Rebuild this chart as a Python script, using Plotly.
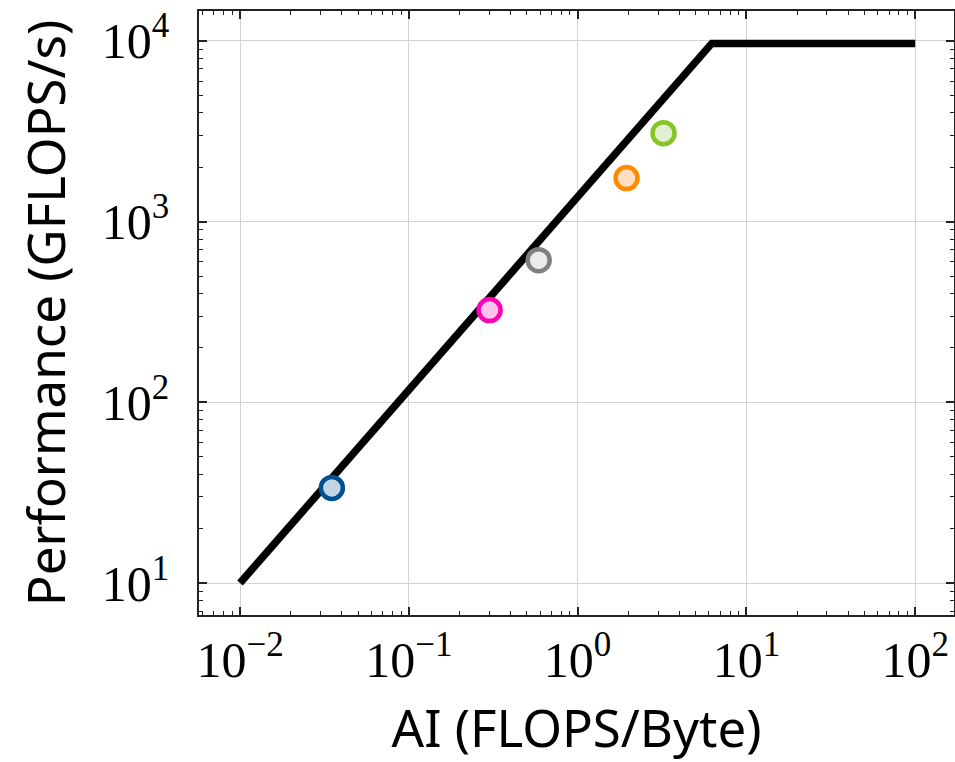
import plotly.graph_objects as go

# Roofline (A100-like)
roof_ai = [0.01, 6.24, 100]
roof_perf = [10, 9700, 9700]

# Measured kernels
point_ai = [0.035, 0.301, 0.588, 1.95, 3.23]
point_perf = [33.6, 324, 612, 1742, 3090]
point_edge = ["#00508f", "#ff00b4", "#7f7f7f", "#ff8c00", "#86c427"]
point_fill = ["#c4d5e6", "#ffc2ec", "#ebebeb", "#ffdfbf", "#e1f0d4"]

x_tickvals = [0.01, 0.1, 1, 10, 100]
x_ticktext = ["10<sup>−2</sup>", "10<sup>−1</sup>", "10<sup>0</sup>", "10<sup>1</sup>", "10<sup>2</sup>"]
y_tickvals = [10, 100, 1000, 10000]
y_ticktext = ["10<sup>1</sup>", "10<sup>2</sup>", "10<sup>3</sup>", "10<sup>4</sup>"]

fig = go.Figure()
fig.add_trace(go.Scatter(x=roof_ai, y=roof_perf, mode="lines",
                         line=dict(color="black", width=7.5), showlegend=False,
                         hoverinfo="skip"))
for xi, yi, ec, fc in zip(point_ai, point_perf, point_edge, point_fill):
    fig.add_trace(go.Scatter(x=[xi], y=[yi], mode="markers",
                             marker=dict(size=22, color=fc, line=dict(color=ec, width=4.5)),
                             showlegend=False))

tickfont = dict(family="Liberation Serif", size=50, color="black")
titlefont = dict(family="Noto Sans", size=51, color="black")

common = dict(
    type="log", showline=True, linecolor="#222", linewidth=1.5, mirror="allticks",
    ticks="inside", ticklen=8, tickwidth=1.5, tickcolor="#222",
    showgrid=True, gridcolor="#d3d3d3", gridwidth=1.2, zeroline=False,
    tickfont=tickfont, automargin=False,
    minor=dict(ticks="inside", ticklen=4, tickwidth=1.2, tickcolor="#222", dtick="D1", showgrid=False),
)

fig.update_xaxes(range=[-2.243, 2.23], tickvals=x_tickvals, ticktext=x_ticktext,
                 title=dict(text="AI (FLOPS/Byte)", font=titlefont, standoff=28), **common)
fig.update_yaxes(range=[0.823, 4.166], tickvals=y_tickvals, ticktext=y_ticktext,
                 ticklabelstandoff=18,
                 title=dict(text="Performance (GFLOPS/s)", font=titlefont, standoff=20), **common)

fig.update_layout(width=955, height=762, margin=dict(l=199, r=1, t=11, b=147),
                  plot_bgcolor="white", paper_bgcolor="white")

fig.write_html("out.html", config={"displayModeBar": False},
               post_script="document.body.style.margin='0';")
